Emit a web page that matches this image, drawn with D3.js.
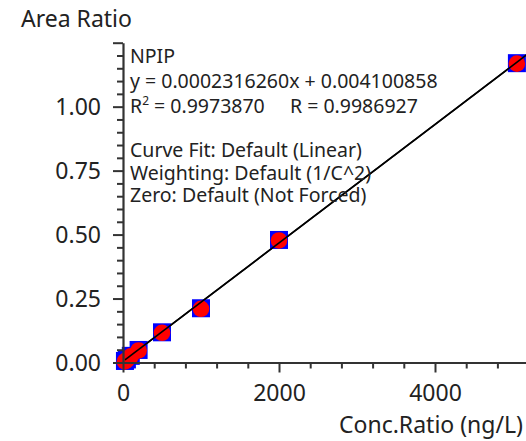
<!DOCTYPE html>
<html><head><meta charset="utf-8">
<script src="https://cdn.jsdelivr.net/npm/d3@7"></script>
<style>
html,body{margin:0;padding:0;background:#fff;}
svg{display:block;}
text{font-family:"Noto Sans",sans-serif;fill:#222;}
</style></head>
<body>
<script>
// Data
const concRatio = [25, 50, 100, 200, 500, 1000, 2000, 5050];
const areaRatio = [0.006, 0.012, 0.026, 0.049, 0.118, 0.212, 0.479, 1.17];
const slope = 0.0002316260, intercept = 0.004100858;
const yMajorTicks = [0, 0.25, 0.5, 0.75, 1.0, 1.25];
const xMajorTicks = [0, 2000, 4000];
const annotation = ["NPIP", "y = 0.0002316260x + 0.004100858"];
const fitInfo = ["Curve Fit: Default (Linear)", "Weighting: Default (1/C^2)", "Zero: Default (Not Forced)"];

const W = 526, H = 441;
const svg = d3.select("body").append("svg").attr("width", W).attr("height", H);

const x = d3.scaleLinear().domain([0, 5200]).range([123, 528.6]);
const y = d3.scaleLinear().domain([0, 1.25]).range([362.5, 42.7]);

const yMinor = d3.range(0, 1.2501, 0.05).filter(v => !yMajorTicks.some(m => Math.abs(m - v) < 1e-6));
const xMinor = d3.range(0, 5201, 400).filter(v => !xMajorTicks.includes(v));

// fit line (under points)
const xs = [concRatio[0], 5200];
svg.append("line")
  .attr("x1", x(xs[0])).attr("y1", y(slope * xs[0] + intercept))
  .attr("x2", x(xs[1])).attr("y2", y(slope * xs[1] + intercept))
  .attr("stroke", "#000").attr("stroke-width", 1.6);

// points
const pts = svg.append("g");
concRatio.forEach((c, i) => {
  pts.append("rect").attr("x", x(c) - 9).attr("y", y(areaRatio[i]) - 9)
    .attr("width", 18).attr("height", 18).attr("fill", "#0000ff");
});
concRatio.forEach((c, i) => {
  pts.append("circle").attr("cx", x(c)).attr("cy", y(areaRatio[i]) + 0.5)
    .attr("r", 8.3).attr("fill", "#ff0000");
});
// redraw line over points
svg.append("line")
  .attr("x1", x(xs[0])).attr("y1", y(slope * xs[0] + intercept))
  .attr("x2", x(xs[1])).attr("y2", y(slope * xs[1] + intercept))
  .attr("stroke", "#000").attr("stroke-width", 1.6);

// Y axis
const gy = svg.append("g").attr("transform", `translate(${x(0)},0)`);
gy.call(d3.axisLeft(y).tickValues(yMajorTicks).tickSize(10).tickSizeOuter(0)
  .tickFormat(d => d === 1.25 ? "" : d3.format(".2f")(d)));
gy.append("g").call(d3.axisLeft(y).tickValues(yMinor).tickSize(6).tickFormat(""))
  .select(".domain").remove();
gy.selectAll("path.domain").attr("stroke", "#333").attr("stroke-width", 2.2);
gy.selectAll(".tick line").attr("stroke", "#333").attr("stroke-width", 2);
gy.selectAll(".tick text").style("font-size", "23px").attr("fill", "#222").attr("x", -22).attr("dy", "0.33em");

// X axis
const gx = svg.append("g").attr("transform", `translate(0,${y(0)})`);
gx.call(d3.axisBottom(x).tickValues(xMajorTicks).tickSize(10).tickSizeOuter(0).tickFormat(d3.format("d")));
gx.append("g").call(d3.axisBottom(x).tickValues(xMinor).tickSize(6).tickFormat(""))
  .select(".domain").remove();
gx.selectAll("path.domain").attr("stroke", "#333").attr("stroke-width", 2.2);
gx.selectAll(".tick line").attr("stroke", "#333").attr("stroke-width", 2);
gx.selectAll(".tick text").style("font-size", "23px").attr("fill", "#222").attr("y", 22).attr("dy", "0.71em");

// axis titles
svg.append("text").attr("x", 21).attr("y", 26.5).style("font-size", "23px").text("Area Ratio");
svg.append("text").attr("x", 339).attr("y", 433).style("font-size", "23px").text("Conc.Ratio (ng/L)");

// annotation
const ann = svg.append("g").style("font-size", "19.5px");
ann.append("text").attr("x", 130).attr("y", 63.3).text(annotation[0]);
ann.append("text").attr("x", 130).attr("y", 88).text(annotation[1]);
const r2 = ann.append("text").attr("x", 130).attr("y", 113);
r2.append("tspan").text("R");
r2.append("tspan").attr("dy", -8).style("font-size", "12px").text("2");
r2.append("tspan").attr("dy", 8).text(" = 0.9973870");
ann.append("text").attr("x", 290).attr("y", 113).text("R = 0.9986927");
const fy = [156.7, 180, 201.7];
fitInfo.forEach((t, i) => ann.append("text").attr("x", 130).attr("y", fy[i]).text(t));
</script>
</body></html>
